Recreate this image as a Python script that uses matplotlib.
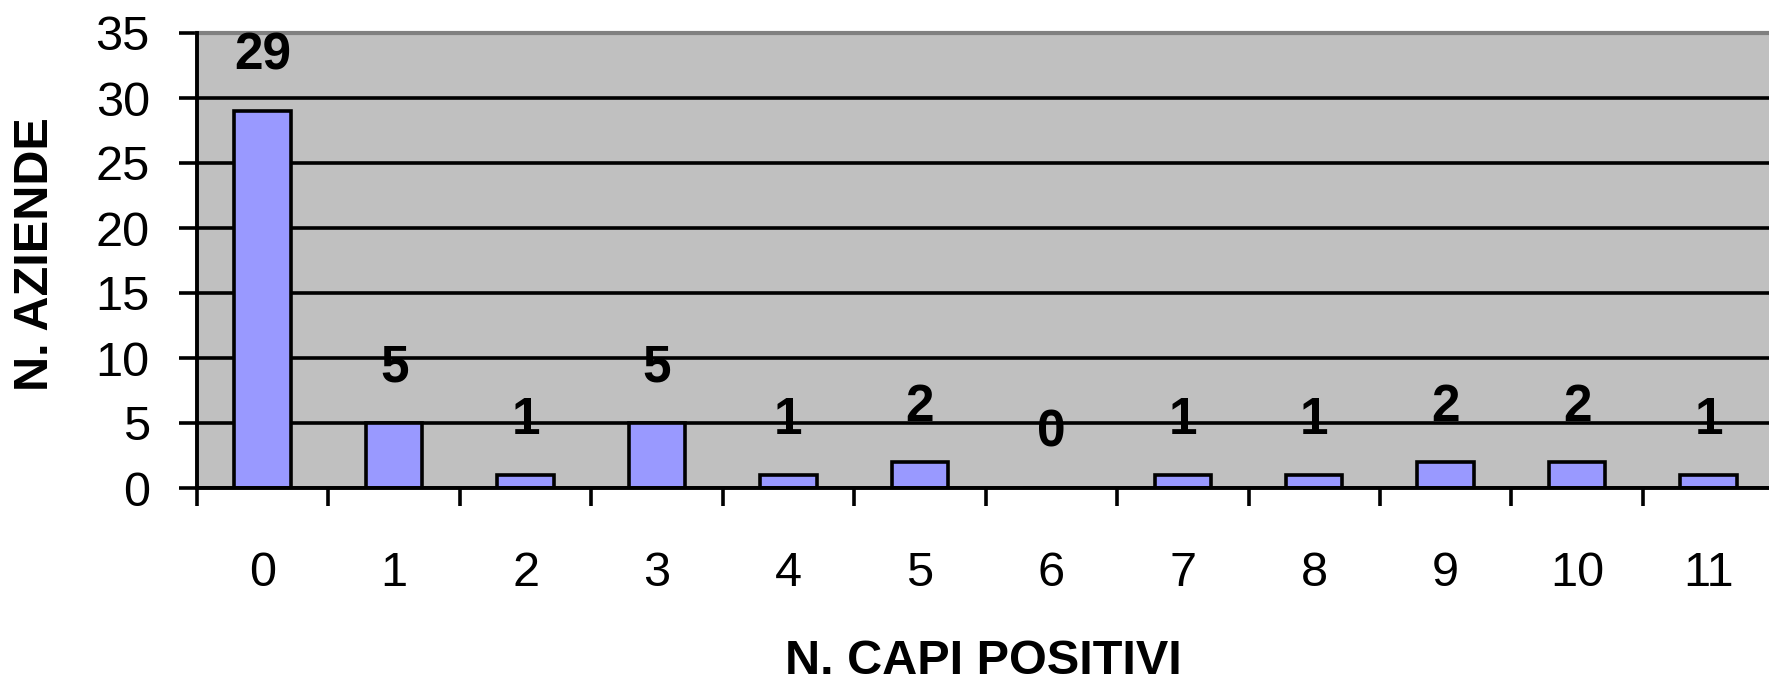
import matplotlib
matplotlib.use("Agg")
import matplotlib.pyplot as plt
import numpy as np

# data
categories = ["0", "1", "2", "3", "4", "5", "6", "7", "8", "9", "10", "11"]
n_aziende = [29, 5, 1, 5, 1, 2, 0, 1, 1, 2, 2, 1]
y_ticks = [0, 5, 10, 15, 20, 25, 30, 35]

plt.rcParams['font.family'] = ['Liberation Sans', 'DejaVu Sans']

fig = plt.figure(figsize=(17.69, 6.82), dpi=100)
ax = fig.add_axes([197 / 1769, 1 - 488 / 682, 1 - 197 / 1769, (488 - 33) / 682])
ax.set_facecolor('#C0C0C0')

x = np.arange(len(categories))
ax.bar(x, n_aziende, width=0.43, color='#9999FF', edgecolor='black', linewidth=2.6, zorder=3)

# value labels above bars
for xi, v in zip(x, n_aziende):
    ax.text(xi, v + 4.2, str(v), ha='center', va='center',
            fontsize=37, fontweight='bold', zorder=4)

ax.set_xlim(-0.5, 11.46)
ax.set_ylim(0, 35)

# tick marks between categories, labels at the centres
ax.set_xticks(np.arange(-0.5, len(categories) - 0.5, 1))
ax.set_xticklabels([])
ax.set_xticks(x, minor=True)
ax.set_xticklabels(categories, minor=True)
ax.tick_params(axis='x', which='major', direction='out', length=13, width=2.6)
ax.tick_params(axis='x', which='minor', length=0, pad=45, labelsize=35)

ax.set_yticks(y_ticks)
ax.tick_params(axis='y', direction='out', length=13, width=2.6, pad=21, labelsize=35)

ax.grid(axis='y', color='black', linewidth=2.6, zorder=1)
ax.set_axisbelow(True)

for s in ['left', 'bottom']:
    ax.spines[s].set_linewidth(2.8)
    ax.spines[s].set_zorder(5)
ax.spines['top'].set_color('#808080')
ax.spines['top'].set_linewidth(3)
ax.spines['right'].set_visible(False)

ax.set_xlabel('N. CAPI POSITIVI', fontsize=35, fontweight='bold')
ax.xaxis.set_label_coords(0.5, 1 - (661 - 33) / 455)
ax.xaxis.label.set_va('center')
ax.set_ylabel('N. AZIENDE', fontsize=35, fontweight='bold')
ax.yaxis.set_label_coords(-(197 - 36) / (1769 - 197), 0.5 + 6 / 455)
ax.yaxis.label.set_va('center')

fig.savefig('out.png', dpi=100)
